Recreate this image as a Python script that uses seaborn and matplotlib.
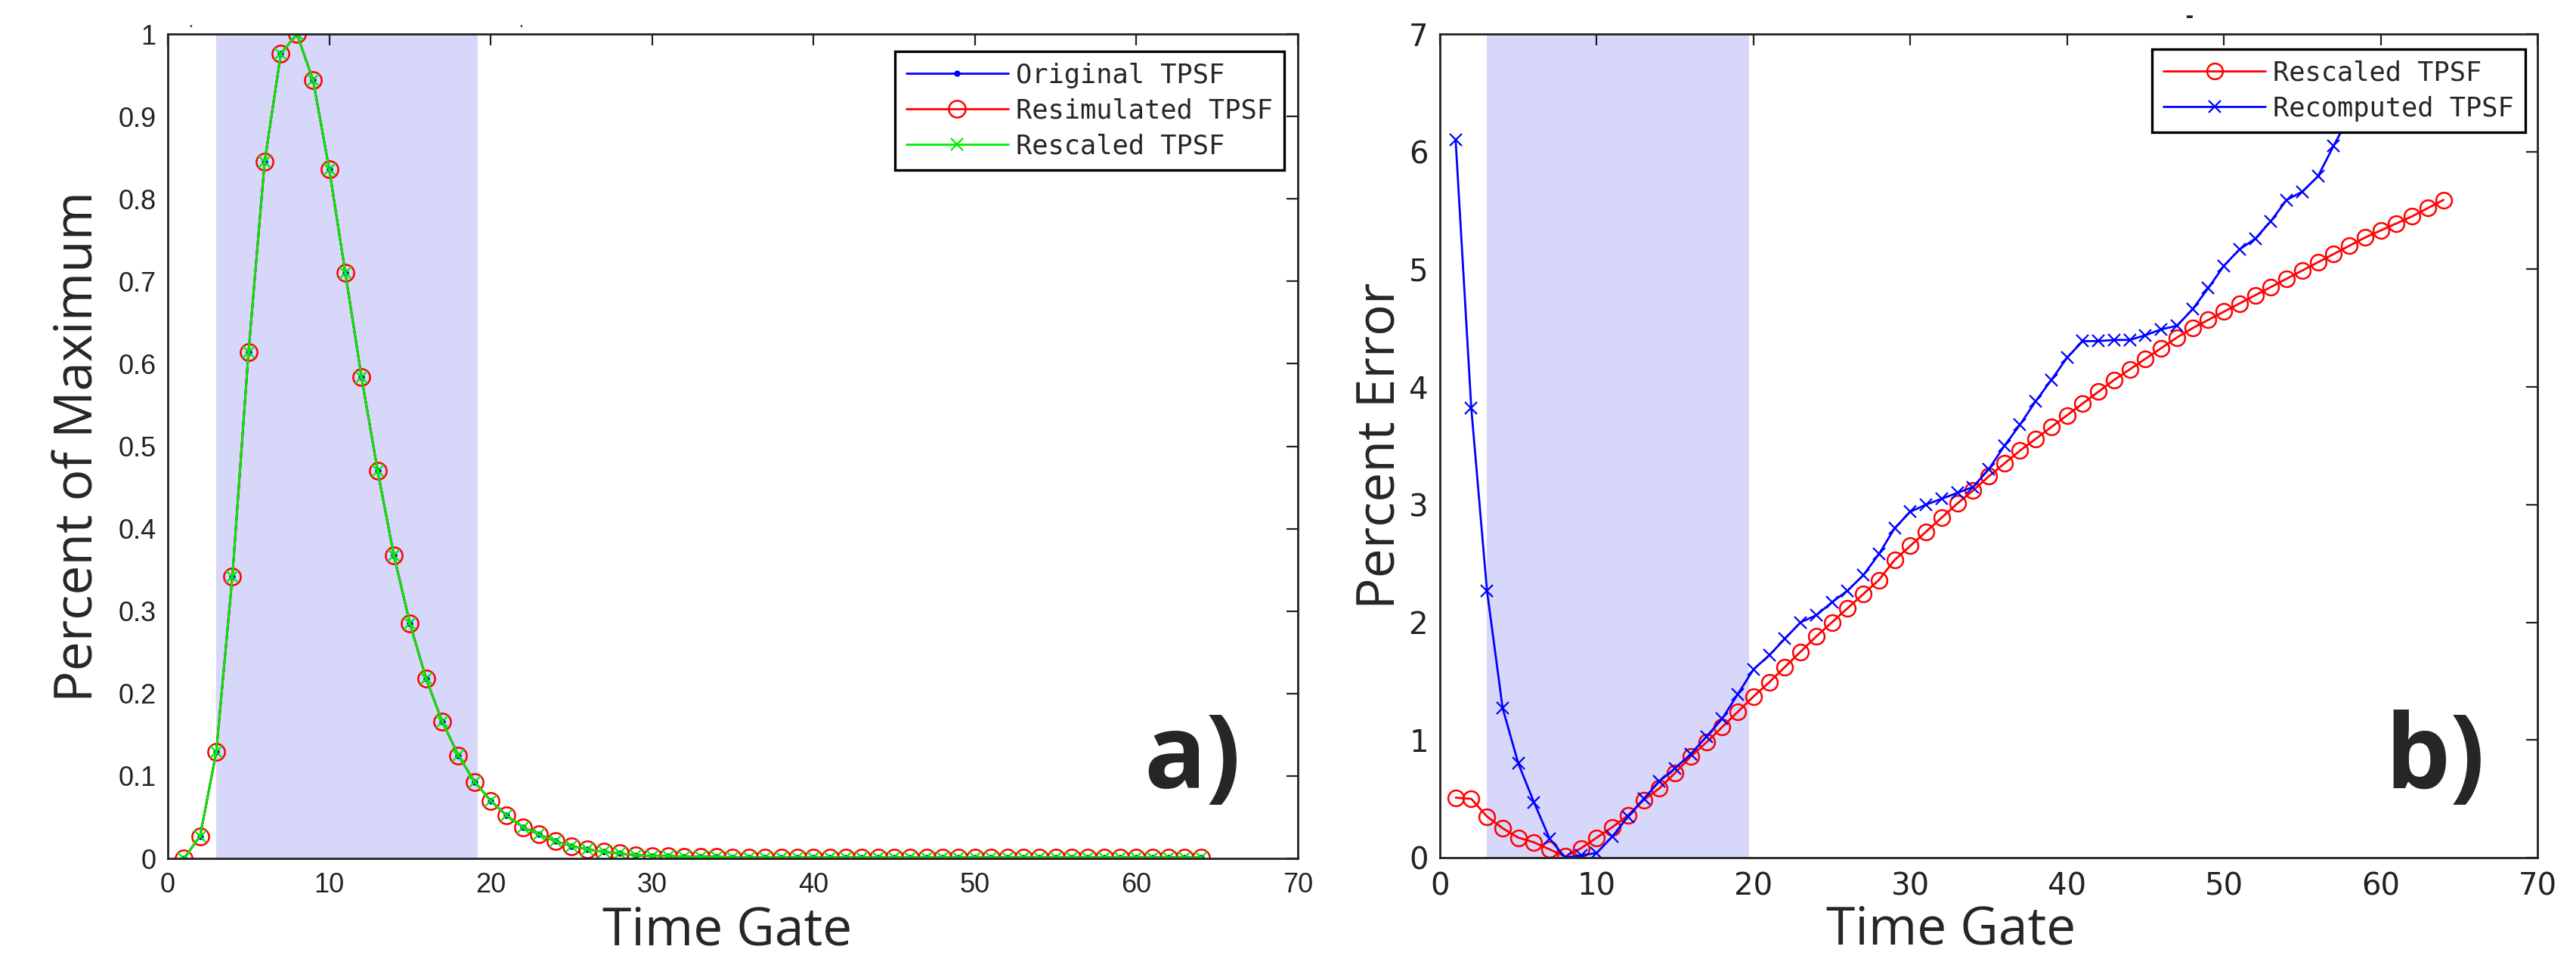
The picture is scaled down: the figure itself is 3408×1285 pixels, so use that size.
import matplotlib
matplotlib.use("Agg")
import matplotlib.pyplot as plt
import seaborn as sns

# ------------------------------------------------------------------
# Data
# ------------------------------------------------------------------
time_gate = list(range(1, 65))

# a) normalised TPSFs - the three curves lie on top of each other
original_tpsf = [0.0, 0.027, 0.129, 0.342, 0.614, 0.845, 0.976, 1.0, 0.944, 0.836,
                 0.710, 0.584, 0.470, 0.368, 0.285, 0.218, 0.166, 0.125, 0.093, 0.070,
                 0.052, 0.038, 0.029, 0.021, 0.015, 0.011, 0.008, 0.006, 0.004, 0.003,
                 0.003, 0.002, 0.002, 0.002, 0.001, 0.001, 0.001, 0.001, 0.001, 0.001,
                 0.001, 0.001, 0.001, 0.001, 0.001, 0.001, 0.001, 0.001, 0.001, 0.001,
                 0.001, 0.001, 0.001, 0.001, 0.001, 0.001, 0.001, 0.001, 0.001, 0.001,
                 0.001, 0.001, 0.001, 0.001]
resimulated_tpsf = list(original_tpsf)
rescaled_tpsf = list(original_tpsf)

# b) percent error
rescaled_err = [0.51, 0.50, 0.35, 0.25, 0.17, 0.13, 0.07, 0.01, 0.08, 0.17,
                0.26, 0.36, 0.49, 0.59, 0.72, 0.86, 0.98, 1.11, 1.24, 1.37,
                1.49, 1.62, 1.75, 1.88, 2.00, 2.12, 2.24, 2.36, 2.53, 2.65,
                2.77, 2.89, 3.01, 3.12, 3.24, 3.35, 3.46, 3.56, 3.66, 3.76,
                3.86, 3.96, 4.06, 4.15, 4.24, 4.33, 4.42, 4.50, 4.57, 4.64,
                4.71, 4.78, 4.85, 4.92, 4.99, 5.06, 5.13, 5.20, 5.27, 5.33,
                5.39, 5.45, 5.52, 5.59]
recomputed_gate = list(range(1, 59))
recomputed_err = [6.10, 3.82, 2.27, 1.27, 0.80, 0.47, 0.16, 0.00, 0.02, 0.04,
                  0.18, 0.35, 0.50, 0.65, 0.76, 0.88, 1.03, 1.18, 1.39, 1.60,
                  1.72, 1.86, 2.00, 2.06, 2.17, 2.27, 2.40, 2.58, 2.80, 2.94,
                  3.00, 3.05, 3.10, 3.15, 3.30, 3.50, 3.68, 3.88, 4.06, 4.25,
                  4.39, 4.39, 4.40, 4.40, 4.44, 4.49, 4.52, 4.66, 4.84, 5.03,
                  5.17, 5.26, 5.41, 5.59, 5.66, 5.79, 6.05, 6.30]

shade_a = (3.0, 19.2)
shade_b = (3.0, 19.7)

x_ticks = list(range(0, 71, 10))
y_ticks_a = [i / 10 for i in range(11)]
y_labels_a = ["0"] + [f"{v:.1f}" for v in y_ticks_a[1:-1]] + ["1"]
y_ticks_b = list(range(0, 8))

# ------------------------------------------------------------------
# Style
# ------------------------------------------------------------------
sns.set_style("white")
plt.rcParams['font.family'] = ['Open Sans', 'DejaVu Sans']

SHADE = '#D7D7FA'
DARK = '#222222'

fig = plt.figure(figsize=(34.08, 12.85), dpi=100)
ax1 = fig.add_axes([0.06514, 0.11595, 0.43867, 0.84903])
ax2 = fig.add_axes([0.55898, 0.11673, 0.42606, 0.84825])


def style_axis(ax, tick_font, tick_size):
    for s in ax.spines.values():
        s.set_visible(True)
        s.set_color(DARK)
        s.set_linewidth(2)
    ax.tick_params(direction='in', length=11, width=1.6, top=True, right=True,
                   colors=DARK, labelsize=tick_size, labelfontfamily=tick_font)
    ax.tick_params(axis='x', pad=13)
    ax.tick_params(axis='y', pad=11)


def legend_box(ax, anchor):
    leg = ax.legend(loc='upper right', bbox_to_anchor=anchor, borderaxespad=0,
                    prop={'family': 'DejaVu Sans Mono', 'size': 25.5},
                    handlelength=3.8, handletextpad=0.3, labelspacing=0.36,
                    borderpad=0.42, fancybox=False, framealpha=1, edgecolor='black')
    leg.get_frame().set_linewidth(2.4)
    return leg


# ---------------------------- panel a ----------------------------
ax1.axvspan(*shade_a, color=SHADE, zorder=0.5, lw=0)
sns.lineplot(x=time_gate, y=original_tpsf, ax=ax1, color='blue', linewidth=2,
             marker='.', markersize=10, markeredgecolor='blue', markeredgewidth=1,
             label='Original TPSF')
sns.lineplot(x=time_gate, y=resimulated_tpsf, ax=ax1, color='red', linewidth=2,
             marker='o', markersize=16, markerfacecolor='none', markeredgecolor='red',
             markeredgewidth=1.8, label='Resimulated TPSF')
sns.lineplot(x=time_gate, y=rescaled_tpsf, ax=ax1, color='#00EE00', linewidth=2,
             marker='x', markersize=11, markeredgecolor='#00EE00', markeredgewidth=1.6,
             label='Rescaled TPSF')
ax1.set_xlim(0, 70)
ax1.set_ylim(0, 1)
ax1.set_xticks(x_ticks)
ax1.set_yticks(y_ticks_a)
ax1.set_yticklabels(y_labels_a)
style_axis(ax1, 'Liberation Sans', 26)
ax1.set_xlabel('Time Gate', fontsize=50)
ax1.set_ylabel('Percent of Maximum', fontsize=50)
ax1.xaxis.set_label_coords(0.495, -0.1045)
ax1.xaxis.label.set_va('baseline')
ax1.yaxis.set_label_coords(-0.0555, 0.5)
legend_box(ax1, (0.988, 0.979))
fig.text(1513 / 3408, 1 - 1043 / 1285, 'a)', fontsize=98, fontweight='bold',
         ha='left', va='baseline')

# ---------------------------- panel b ----------------------------
ax2.axvspan(*shade_b, color=SHADE, zorder=0.5, lw=0)
sns.lineplot(x=time_gate, y=rescaled_err, ax=ax2, color='red', linewidth=2,
             marker='o', markersize=15, markerfacecolor='none', markeredgecolor='red',
             markeredgewidth=1.8, label='Rescaled TPSF')
sns.lineplot(x=recomputed_gate, y=recomputed_err, ax=ax2, color='blue', linewidth=2,
             marker='x', markersize=12, markeredgecolor='blue', markeredgewidth=1.6,
             label='Recomputed TPSF')
ax2.set_xlim(0, 70)
ax2.set_ylim(0, 7)
ax2.set_xticks(x_ticks)
ax2.set_yticks(y_ticks_b)
style_axis(ax2, 'Liberation Sans Narrow', 29)
ax2.set_xlabel('Time Gate', fontsize=50)
ax2.set_ylabel('Percent Error', fontsize=50)
ax2.xaxis.set_label_coords(0.4656, -0.1055)
ax2.xaxis.label.set_va('baseline')
ax2.yaxis.set_label_coords(-0.0296, 0.5)
legend_box(ax2, (0.989, 0.9817))
fig.text(3155 / 3408, 1 - 1043 / 1285, 'b)', fontsize=98, fontweight='bold',
         ha='left', va='baseline')

# small leftover marks above the panels
fig.text(252 / 3408, 1 - 36 / 1285, '.', fontsize=16, ha='center', va='baseline')
fig.text(689 / 3408, 1 - 36 / 1285, '.', fontsize=16, ha='center', va='baseline')
fig.text(2896 / 3408, 1 - 30 / 1285, '-', fontsize=22, fontweight='bold',
         ha='center', va='baseline')

fig.savefig('out.png', dpi=100)
